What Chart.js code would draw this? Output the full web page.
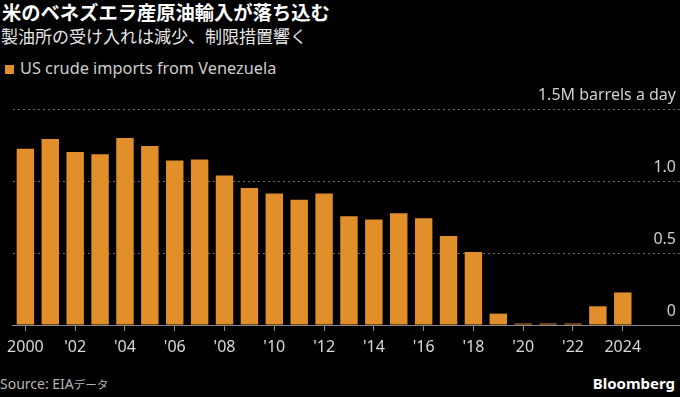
<!DOCTYPE html>
<html>
<head>
<meta charset="utf-8">
<script src="https://cdn.jsdelivr.net/npm/chart.js@4"></script>
<style>
  html, body { margin: 0; padding: 0; background: #000; }
  body { width: 680px; height: 397px; overflow: hidden; position: relative;
         font-family: "Noto Sans", "Noto Sans CJK JP", sans-serif; }
  .title { position: absolute; left: 2px; top: -2px; color: #fff; font-size: 19.3px; font-weight: bold;
           font-family: "Noto Sans CJK JP", sans-serif; white-space: nowrap; }
  .subtitle { position: absolute; left: 1px; top: 23px; color: #e6e6e6; font-size: 17px;
              font-family: "Noto Sans CJK JP", sans-serif; white-space: nowrap; }
  .legend { position: absolute; left: 5px; top: 57px; color: #cfcfcf; font-size: 16.3px; white-space: nowrap; }
  .legend span { display: inline-block; width: 9px; height: 9px; background: #e18f2a; margin-right: 6px; }
  .source { position: absolute; left: 0; top: 374px; color: #b5b5b5; font-size: 14px; white-space: nowrap; }
  .source .jp { font-size: 11.5px; font-family: "Noto Sans CJK JP", sans-serif; }
  .brand { position: absolute; right: 5px; top: 373px; color: #fff; font-size: 15px; font-weight: bold; }
  #wrap { position: absolute; left: 0; top: 80px; width: 685px; height: 280px; }
</style>
</head>
<body>
<div class="title">米のベネズエラ産原油輸入が落ち込む</div>
<div class="subtitle">製油所の受け入れは減少、制限措置響く</div>
<div class="legend"><span></span>US crude imports from Venezuela</div>
<div class="source">Source: EIA<span class="jp">データ</span></div>
<div class="brand">Bloomberg</div>
<div id="wrap"><canvas id="chart" width="685" height="280"></canvas></div>
<script>
// 年（最後の2つは右側の余白用）
const years = ['2000', '2001', '2002', '2003', '2004', '2005', '2006', '2007', '2008', '2009',
  '2010', '2011', '2012', '2013', '2014', '2015', '2016', '2017', '2018', '2019',
  '2020', '2021', '2022', '2023', '2024', '', ''];

// 百万バレル/日
const imports = [1.224, 1.292, 1.201, 1.185, 1.299, 1.243, 1.143, 1.150, 1.038, 0.951,
  0.913, 0.869, 0.913, 0.755, 0.732, 0.776, 0.741, 0.618, 0.507, 0.079,
  0.01, 0.01, 0.01, 0.130, 0.226];

const xTickLabels = ['2000', '', "'02", '', "'04", '', "'06", '', "'08", '',
  "'10", '', "'12", '', "'14", '', "'16", '', "'18", '',
  "'20", '', "'22", '', '2024', '', ''];

const yTickValues = [0, 0.5, 1.0, 1.5];
const yTickLabels = ['0', '0.5', '1.0', '1.5M barrels a day'];

const orange = '#e18f2a';

// y軸ラベルはグリッド線の上に右寄せで描く
const yLabelsPlugin = {
  id: 'yLabels',
  afterDraw(chart) {
    const ctx = chart.ctx;
    const y = chart.scales.y;
    ctx.save();
    ctx.font = '16px "Noto Sans", sans-serif';
    ctx.fillStyle = '#d0d0d0';
    ctx.textAlign = 'right';
    ctx.textBaseline = 'alphabetic';
    yTickValues.forEach((v, i) => {
      ctx.fillText(yTickLabels[i], 676, y.getPixelForValue(v) - 9);
    });
    ctx.restore();
  }
};

const ctx = document.getElementById('chart').getContext('2d');
const myChart = new Chart(ctx, {
  type: 'bar',
  data: {
    labels: years,
    datasets: [{
      label: 'US crude imports from Venezuela',
      data: imports,
      backgroundColor: orange,
      borderWidth: 0,
      categoryPercentage: 1,
      barPercentage: 0.7
    }]
  },
  options: {
    responsive: false,
    animation: false,
    devicePixelRatio: 1,
    layout: { padding: { left: 5, top: 29, right: 0, bottom: 0 } },
    plugins: {
      legend: { display: false },
      tooltip: { enabled: false }
    },
    scales: {
      x: {
        offset: true,
        grid: {
          offset: false,
          drawOnChartArea: false,
          drawTicks: true,
          tickLength: 6,
          color: c => (c.index % 2 === 0 && xTickLabels[c.index] !== '') ? '#8a8a8a' : 'rgba(0,0,0,0)'
        },
        border: { display: true, color: '#8a8a8a', width: 1 },
        ticks: {
          autoSkip: false,
          maxRotation: 0,
          padding: 7,
          color: '#d8d8d8',
          font: { family: '"Noto Sans", sans-serif', size: 16 },
          callback: (val, i) => xTickLabels[i]
        },
        afterFit: s => { s.height = 35; }
      },
      y: {
        position: 'right',
        min: 0,
        max: 1.5,
        ticks: { display: false, stepSize: 0.5 },
        grid: {
          drawTicks: false,
          color: c => c.tick && c.tick.value === 0 ? 'rgba(0,0,0,0)' : '#6e6e6e'
        },
        border: { display: false, dash: [2, 3] },
        afterFit: s => { s.width = 0; }
      }
    }
  },
  plugins: [yLabelsPlugin]
});
</script>
</body>
</html>
